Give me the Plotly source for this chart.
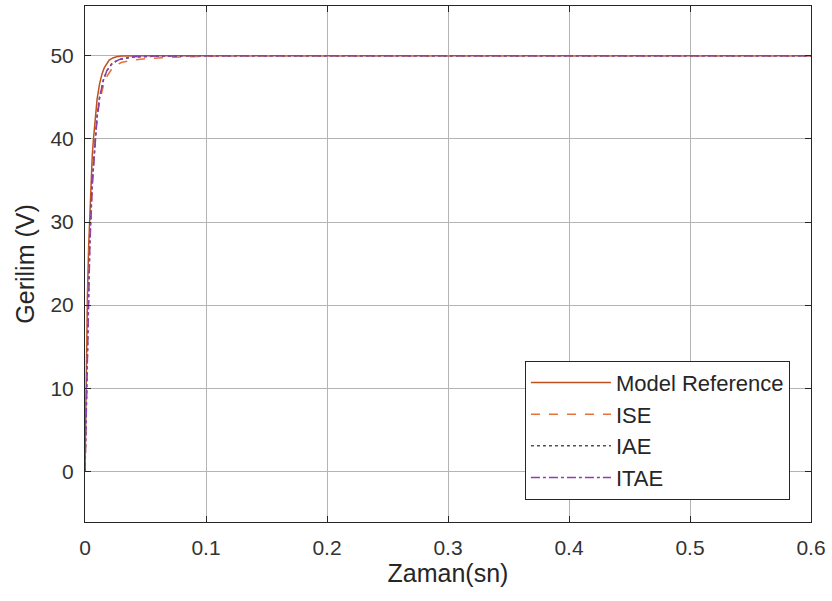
import plotly.graph_objects as go

# ---- data ----
t_ref = [0, 0.0005, 0.001, 0.002, 0.003, 0.004, 0.005, 0.006, 0.007, 0.008, 0.010, 0.012,
         0.014, 0.016, 0.018, 0.020, 0.023, 0.026, 0.030, 0.035, 0.04, 0.05, 0.6]
v_ref = [0, 7, 13, 21, 27, 31, 35, 38, 40, 42, 44.8, 46.6,
         47.8, 48.6, 49.1, 49.5, 49.75, 49.9, 49.97, 50, 50, 50, 50]

t_ise = [0, 0.001, 0.002, 0.003, 0.004, 0.006, 0.008, 0.010, 0.012, 0.015, 0.018, 0.022,
         0.026, 0.03, 0.04, 0.05, 0.06, 0.08, 0.1, 0.12, 0.6]
v_ise = [0, 10, 18, 24, 29, 35, 39.5, 42.5, 44.5, 46.3, 47.5, 48.4,
         48.9, 49.2, 49.5, 49.65, 49.75, 49.88, 49.95, 50, 50]

t_iae = [0, 0.001, 0.002, 0.003, 0.004, 0.006, 0.008, 0.010, 0.012, 0.015, 0.018, 0.022,
         0.026, 0.03, 0.04, 0.05, 0.06, 0.08, 0.1, 0.6]
v_iae = [0, 8, 16, 22.5, 28, 35, 39.5, 42.8, 45, 47, 48.2, 49,
         49.4, 49.6, 49.85, 49.93, 49.97, 50, 50, 50]

t_itae = [0, 0.001, 0.002, 0.003, 0.004, 0.006, 0.008, 0.010, 0.012, 0.015, 0.018, 0.022,
          0.026, 0.03, 0.04, 0.05, 0.06, 0.08, 0.1, 0.6]
v_itae = [0, 6, 14, 21, 27, 34.5, 39.2, 42.6, 44.9, 47, 48.2, 49,
          49.4, 49.65, 49.88, 49.95, 49.98, 50, 50, 50]

x_ticks = [0, 0.1, 0.2, 0.3, 0.4, 0.5, 0.6]
x_ticklabels = ["0", "0.1", "0.2", "0.3", "0.4", "0.5", "0.6"]
y_ticks = [0, 10, 20, 30, 40, 50]
y_ticklabels = ["0", "10", "20", "30", "40", "50"]

series = [
    ("Model Reference", t_ref, v_ref, "#C0501C", "solid"),
    ("ISE", t_ise, v_ise, "#E8703A", "dash"),
    ("IAE", t_iae, v_iae, "#505050", "dot"),
    ("ITAE", t_itae, v_itae, "#8E3FAF", "dashdot"),
]

fig = go.Figure()
for name, t, v, color, dash in series:
    fig.add_trace(go.Scatter(x=t, y=v, mode="lines", name=name,
                             line=dict(color=color, width=1.5, dash=dash)))

font_family = "Liberation Sans, Arial, sans-serif"
text_color = "#262626"
tick_color = "#333333"

axis_common = dict(
    showline=True, linecolor=text_color, linewidth=1, mirror="ticks",
    ticks="inside", ticklen=6, tickcolor=text_color,
    showgrid=True, gridcolor="#b4b4b4", gridwidth=1,
    zeroline=False,
    tickfont=dict(family=font_family, size=21, color=tick_color),
)

fig.update_xaxes(range=[0, 0.6], tickvals=x_ticks, ticktext=x_ticklabels,
                 ticklabelstandoff=7,
                 title=dict(text="Zaman(sn)", font=dict(family=font_family, size=25, color=text_color),
                            standoff=6),
                 **axis_common)
fig.update_yaxes(range=[-6.1, 56.0], tickvals=y_ticks, ticktext=y_ticklabels,
                 ticklabelstandoff=6,
                 title=dict(text="Gerilim (V)", font=dict(family=font_family, size=25, color=text_color),
                            standoff=8),
                 **axis_common)

fig.update_layout(
    width=832, height=601,
    margin=dict(l=85, r=21, t=6, b=79),
    paper_bgcolor="white", plot_bgcolor="white",
    font=dict(family=font_family, size=21, color=text_color),
    legend=dict(x=0.971, y=0.043, xanchor="right", yanchor="bottom",
                bgcolor="white", bordercolor=text_color, borderwidth=1,
                font=dict(family=font_family, size=22, color=text_color),
                itemwidth=80, tracegroupgap=0),
    showlegend=True,
)

fig.write_html("out.html")
